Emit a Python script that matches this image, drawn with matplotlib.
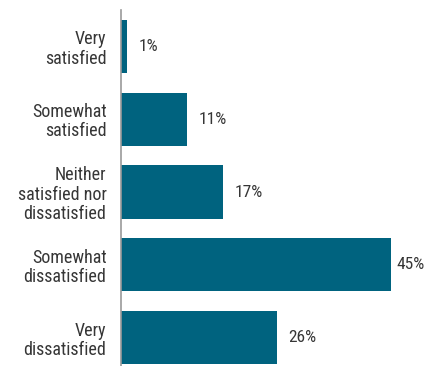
import matplotlib.pyplot as plt

categories = ["Very\nsatisfied", "Somewhat\nsatisfied", "Neither\nsatisfied nor\ndissatisfied",
              "Somewhat\ndissatisfied", "Very\ndissatisfied"]
values = [1, 11, 17, 45, 26]

bar_color = "#00637f"
text_color = "#363636"

plt.rcParams["font.family"] = ["Roboto Condensed", "DejaVu Sans"]

fig = plt.figure(figsize=(4.35, 3.66), dpi=100)
ax = fig.add_axes([121 / 435, 0, 1 - 121 / 435, 1 - 10 / 366])

pos = list(range(len(values)))
ax.barh(pos, values, height=0.73, color=bar_color)
# value labels sit just past the bar end, pulled in near the right edge
for p, v in zip(pos, values):
    ax.text(min(v + 1.9, 45.9), p, f"{v}%", va="center", ha="left", fontsize=12.5, color=text_color)

ax.set_xlim(0, 314 / 6)
ax.set_ylim(4.39, -0.5)
ax.set_yticks(pos)
ax.set_yticklabels(categories, fontsize=13, color=text_color, ha="right", linespacing=1.08)
ax.tick_params(axis="y", length=0, pad=10.5)
ax.set_xticks([])
for s in ["top", "right", "bottom"]:
    ax.spines[s].set_visible(False)
ax.spines["left"].set_color("#999999")
ax.spines["left"].set_linewidth(1.2)

fig.savefig("out.png", dpi=100)
